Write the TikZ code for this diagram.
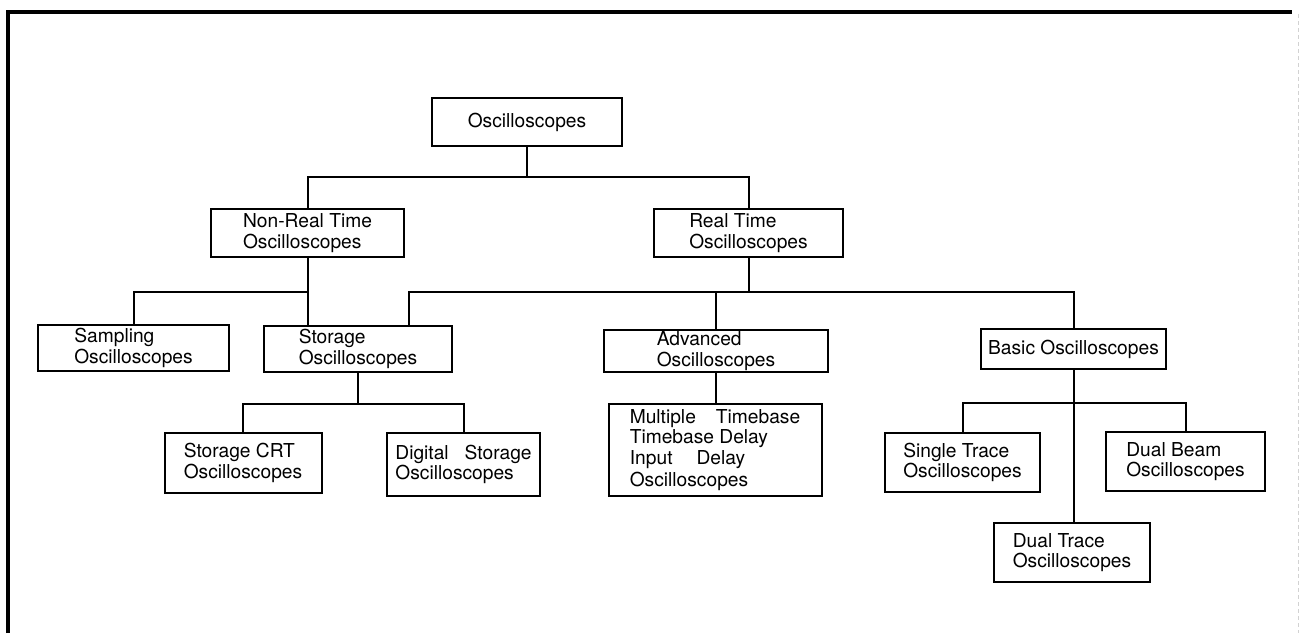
\documentclass[tikz,border=0pt]{standalone}
\usepackage{fontspec}
\setmainfont{TeX Gyre Heros}
\begin{document}
\begin{tikzpicture}[x=0.5pt,y=-0.5pt,
  box/.style={draw, line width=1pt, inner sep=0pt, align=left,
    font=\fontsize{9.6}{10.2}\selectfont},
  conn/.style={line width=1pt},
  frameline/.style={line width=1.8pt}]
\useasboundingbox (0,0) rectangle (1301,633);
% frame
\draw[frameline] (8,633) -- (8,12) -- (1292,12);
\draw[gray!35, line width=0.4pt, dash pattern=on 2pt off 1.5pt] (1298,14) -- (1298,633);
% nodes
\node[box, minimum width=95pt, minimum height=24pt] (root) at (527,122) {Oscilloscopes};
\node[box, minimum width=96.5pt, minimum height=24pt] (nrt) at (307.5,233) {Non-Real Time\\Oscilloscopes};
\node[box, minimum width=94.5pt, minimum height=24pt] (rt) at (748.5,233) {Real Time\\Oscilloscopes};
\node[box, minimum width=95.5pt, minimum height=23pt] (samp) at (133.5,348) {Sampling\\Oscilloscopes};
\node[box, minimum width=94pt, minimum height=23pt] (stor) at (358,349) {Storage\\Oscilloscopes};
\node[box, minimum width=112pt, minimum height=21pt] (adv) at (716,351) {Advanced\\Oscilloscopes};
\node[box, minimum width=92.5pt, minimum height=20pt] (basic) at (1073.5,349) {Basic Oscilloscopes};
\node[box, minimum width=78.5pt, minimum height=30pt] (crt) at (243,463) {Storage CRT\\Oscilloscopes};
\node[box, minimum width=76.5pt, minimum height=31.5pt] (dig) at (463.5,464.5) {Digital\hspace{8pt}Storage\\Oscilloscopes};
\node[box, minimum width=106.5pt, minimum height=46pt] (multi) at (715,450) {Multiple\hspace{10pt}Timebase\\Timebase Delay\\Input\hspace{12pt}Delay\\[1pt]Oscilloscopes};
\node[box, minimum width=77.5pt, minimum height=29.5pt] (single) at (962.5,462.5) {Single Trace\\Oscilloscopes};
\node[box, minimum width=79.5pt, minimum height=29.5pt] (dbeam) at (1185.5,461.5) {Dual Beam\\Oscilloscopes};
\node[box, minimum width=78pt, minimum height=29.5pt] (dtrace) at (1072,552.5) {Dual Trace\\Oscilloscopes};
% bus levels
\coordinate (busA) at (0,177);
\coordinate (busB) at (0,292);
\coordinate (busC) at (0,404);
\coordinate (busD) at (0,403);
\coordinate (sx) at (409,0);
% connectors
\draw[conn] (root.south) -- (root.south |- busA);
\draw[conn] (nrt.north) |- (rt.north |- busA) -- (rt.north);
\draw[conn] (nrt.south) -- (nrt.south |- stor.north);
\draw[conn] (samp.north) |- (nrt.south |- busB);
\draw[conn] (rt.south) -- (rt.south |- busB);
\draw[conn] (stor.north -| sx) |- (basic.north |- busB) -- (basic.north);
\draw[conn] (adv.north) -- (adv.north |- busB);
\draw[conn] (adv.south) -- (adv.south |- multi.north);
\draw[conn] (stor.south) -- (stor.south |- busC);
\draw[conn] (crt.north) |- (dig.north |- busC) -- (dig.north);
\draw[conn] (basic.south) -- (basic.south |- dtrace.north);
\draw[conn] (single.north) |- (dbeam.north |- busD) -- (dbeam.north);
\end{tikzpicture}
\end{document}
